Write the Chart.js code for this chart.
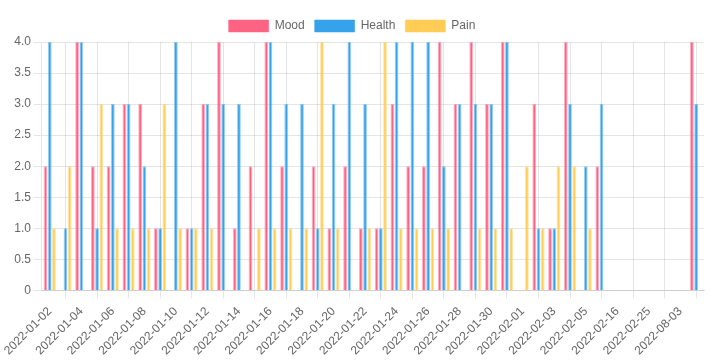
<!DOCTYPE html>
<html lang="en">
<head>
  <meta charset="UTF-8">
  <title>Mood / Health / Pain</title>
  <script src="https://cdn.jsdelivr.net/npm/chart.js"></script>
  <style>
    html, body {
      margin: 0;
      padding: 0;
      background: #fff;
    }

    .chart-container {
      position: relative;
      width: 718px;
      height: 364px;
    }
  </style>
</head>
<body>
<div class="chart-container">
  <canvas id="trackerChart"></canvas>
</div>

<script>
  // Dates (categories); unlabeled ones are guesses
  var dates = [
    '2022-01-02', '2022-01-03', '2022-01-04', '2022-01-05', '2022-01-06', '2022-01-07',
    '2022-01-08', '2022-01-09', '2022-01-10', '2022-01-11', '2022-01-12', '2022-01-13',
    '2022-01-14', '2022-01-15', '2022-01-16', '2022-01-17', '2022-01-18', '2022-01-19',
    '2022-01-20', '2022-01-21', '2022-01-22', '2022-01-23', '2022-01-24', '2022-01-25',
    '2022-01-26', '2022-01-27', '2022-01-28', '2022-01-29', '2022-01-30', '2022-01-31',
    '2022-02-01', '2022-02-02', '2022-02-03', '2022-02-04', '2022-02-05', '2022-02-06',
    '2022-02-16', '2022-02-20', '2022-02-25', '2022-03-01', '2022-08-03', '2022-08-04'
  ];

  var mood = [2, 0, 4, 2, 2, 3, 3, 1, 0, 1, 3, 4, 1, 2, 4, 2, 0, 2, 1, 2, 1,
              1, 3, 2, 2, 4, 3, 4, 3, 4, 0, 3, 1, 4, 0, 2, 0, 0, 0, 0, 0, 4];
  var health = [4, 1, 4, 1, 3, 3, 2, 1, 4, 1, 3, 3, 3, 0, 4, 3, 3, 1, 3, 4, 3,
                1, 4, 4, 4, 2, 3, 3, 3, 4, 0, 1, 1, 3, 2, 3, 0, 0, 0, 0, 0, 3];
  var pain = [1, 2, 0, 3, 1, 1, 1, 3, 1, 1, 1, 0, 0, 1, 1, 1, 1, 4, 1, 0, 1,
              4, 1, 1, 1, 1, 0, 1, 1, 1, 2, 1, 2, 2, 1, 0, 0, 0, 0, 0, 0, 0];

  var ctx = document.getElementById('trackerChart').getContext('2d');
  var trackerChart = new Chart(ctx, {
    type: 'bar',
    data: {
      labels: dates,
      datasets: [{
        label: 'Mood',
        data: mood,
        backgroundColor: '#ff6384',
        borderColor: 'rgba(255, 99, 132, 0.5)',
        borderWidth: 1
      }, {
        label: 'Health',
        data: health,
        backgroundColor: '#36a2eb',
        borderColor: 'rgba(54, 162, 235, 0.5)',
        borderWidth: 1
      }, {
        label: 'Pain',
        data: pain,
        backgroundColor: '#ffcd56',
        borderColor: 'rgba(255, 205, 86, 0.5)',
        borderWidth: 1
      }]
    },
    options: {
      responsive: true,
      maintainAspectRatio: false,
      animation: false,
      layout: {
        padding: { top: 10, right: 14, bottom: 0, left: 0 }
      },
      plugins: {
        legend: {
          position: 'top'
        }
      },
      scales: {
        y: {
          beginAtZero: true,
          max: 4,
          ticks: {
            stepSize: 0.5
          }
        },
        x: {
          ticks: {
            padding: 6,
            maxRotation: 45,
            minRotation: 45
          }
        }
      }
    }
  });
</script>
</body>
</html>
